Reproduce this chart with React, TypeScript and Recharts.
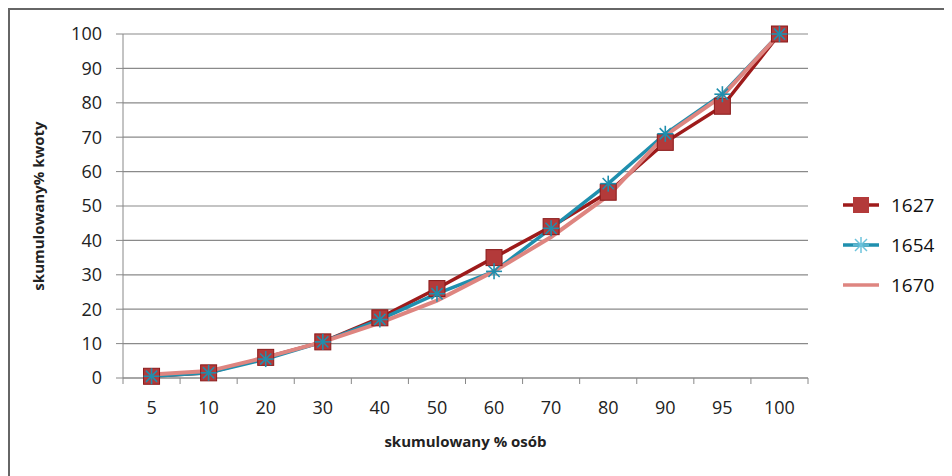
import { LineChart, Line, XAxis, YAxis, CartesianGrid, Label } from 'recharts';

const categories = ['5', '10', '20', '30', '40', '50', '60', '70', '80', '90', '95', '100'];
const s1627 = [0.5, 1.5, 6, 10.5, 17.5, 26, 35, 44, 54, 68.5, 79, 100];
const s1654 = [0.5, 1.5, 5.5, 10.5, 17, 24.5, 31, 43.5, 56.5, 71, 82.5, 100];
const s1670 = [1, 2, 6, 10.5, 16, 22.5, 31, 41, 53, 70.5, 82, 100];
const yTicks = [0, 10, 20, 30, 40, 50, 60, 70, 80, 90, 100];

const data = categories.map((c, i) => ({ cat: c, s1627: s1627[i], s1654: s1654[i], s1670: s1670[i] }));

const FONT = '"Open Sans", "Noto Sans", sans-serif';
const RED = '#9e1b1b';
const RED_FILL = '#b33a3a';
const TEAL = '#1f8fae';
const PINK = '#de8580';
const BAND = 685 / 12;

const SquareDot = (props: any) => {
  const { cx, cy } = props;
  if (cx == null || cy == null) return null;
  return <rect x={cx - 8} y={cy - 8} width={16} height={16} fill={RED_FILL} stroke="#8a1a1a" strokeWidth={1} />;
};

const StarDot = (props: any) => {
  const { cx, cy } = props;
  if (cx == null || cy == null) return null;
  const r = 8;
  return (
    <g stroke={TEAL} strokeWidth={1.6}>
      <line x1={cx - r} y1={cy} x2={cx + r} y2={cy} />
      <line x1={cx} y1={cy - r} x2={cx} y2={cy + r} />
      <line x1={cx - r * 0.7} y1={cy - r * 0.7} x2={cx + r * 0.7} y2={cy + r * 0.7} />
      <line x1={cx - r * 0.7} y1={cy + r * 0.7} x2={cx + r * 0.7} y2={cy - r * 0.7} />
    </g>
  );
};

const XTick = (props: any) => {
  const { x, y, payload, index } = props;
  const last = index === categories.length - 1;
  return (
    <g>
      <line x1={x - BAND / 2} y1={y - 8} x2={x - BAND / 2} y2={y - 2} stroke="#888" />
      {last && <line x1={x + BAND / 2} y1={y - 8} x2={x + BAND / 2} y2={y - 2} stroke="#888" />}
      <text x={x} y={y + 28} textAnchor="middle" fontSize={18} fill="#222" fontFamily={FONT}>
        {payload.value}
      </text>
    </g>
  );
};

const legendItems = [
  { name: '1627', color: RED, marker: 'square' },
  { name: '1654', color: TEAL, marker: 'star' },
  { name: '1670', color: PINK, marker: 'none' },
];

export default function App() {
  return (
    <div
      style={{
        position: 'relative',
        width: 944,
        height: 468,
        borderTop: '2px solid #666',
        borderLeft: '2px solid #666',
        background: '#fff',
        fontFamily: FONT,
      }}
    >
      <LineChart
        width={942}
        height={466}
        data={data}
        margin={{ top: 24, right: 144, left: 53, bottom: 68 }}
      >
        <CartesianGrid vertical={false} stroke="#8a8a8a" strokeWidth={1.2} />
        <XAxis
          dataKey="cat"
          tickLine={false}
          stroke="#888"
          tick={<XTick />}
          interval={0}
          height={30}
          padding={{ left: BAND / 2, right: BAND / 2 }}
        >
          <Label
            value="skumulowany % osób"
            position="bottom"
            offset={28}
            style={{ fontSize: 15, fontWeight: 700, fill: '#222', fontFamily: FONT }}
          />
        </XAxis>
        <YAxis
          domain={[0, 100]}
          ticks={yTicks}
          width={60}
          stroke="#888"
          tickSize={7}
          tickMargin={14}
          tick={{ fontSize: 18, fill: '#222', fontFamily: FONT }}
        >
          <Label
            value="skumulowany% kwoty"
            angle={-90}
            position="insideLeft"
            offset={-24}
            style={{ fontSize: 15, fontWeight: 700, fill: '#222', fontFamily: FONT, textAnchor: 'middle' }}
          />
        </YAxis>
        <Line
          dataKey="s1627"
          name="1627"
          stroke={RED}
          strokeWidth={3.5}
          dot={<SquareDot />}
          isAnimationActive={false}
        />
        <Line
          dataKey="s1654"
          name="1654"
          stroke={TEAL}
          strokeWidth={3.5}
          dot={<StarDot />}
          isAnimationActive={false}
        />
        <Line
          dataKey="s1670"
          name="1670"
          stroke={PINK}
          strokeWidth={4}
          dot={false}
          isAnimationActive={false}
        />
      </LineChart>
      <div style={{ position: 'absolute', left: 831, top: 175 }}>
        {legendItems.map((it) => (
          <div key={it.name} style={{ display: 'flex', alignItems: 'center', height: 40 }}>
            <svg width={40} height={20}>
              <line x1={2} y1={10} x2={38} y2={10} stroke={it.color} strokeWidth={3.5} />
              {it.marker === 'square' && <rect x={12} y={2} width={16} height={16} fill={RED_FILL} />}
              {it.marker === 'star' && (
                <g stroke="#6cc3dc" strokeWidth={1.5}>
                  <line x1={12} y1={10} x2={28} y2={10} />
                  <line x1={20} y1={2} x2={20} y2={18} />
                  <line x1={14} y1={4} x2={26} y2={16} />
                  <line x1={14} y1={16} x2={26} y2={4} />
                </g>
              )}
            </svg>
            <span style={{ fontSize: 19, color: '#111', marginLeft: 10 }}>{it.name}</span>
          </div>
        ))}
      </div>
    </div>
  );
}
